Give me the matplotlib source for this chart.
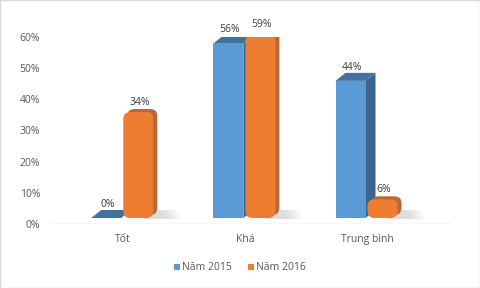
import matplotlib
matplotlib.use("Agg")
import matplotlib.pyplot as plt
from matplotlib.patches import Polygon, FancyBboxPatch, Rectangle

categories = ["Tốt", "Khá", "Trung bình"]
nam_2015 = [0.00, 0.56, 0.44]
nam_2016 = [0.34, 0.59, 0.06]
y_ticks = [0.0, 0.1, 0.2, 0.3, 0.4, 0.5, 0.6]
y_tick_labels = ["0%", "10%", "20%", "30%", "40%", "50%", "60%"]

BLUE = "#5B9BD5"
BLUE_TOP = "#41719C"
BLUE_SIDE = "#3A6590"
ORANGE = "#ED7D31"
ORANGE_BACK = "#B8683A"
TXT = "#404040"
FS = 7.5

plt.rcParams["font.family"] = ["Open Sans", "DejaVu Sans"]

W, H = 480, 288
fig = plt.figure(figsize=(W / 100, H / 100), dpi=100)
ax_l, ax_b, ax_w, ax_h = 50, 224, 403, 187
ax = fig.add_axes([ax_l / W, 1 - ax_b / H, ax_w / W, ax_h / H])
xmin, xmax = -0.6, 2.7
ymin, ymax = 0.0, 0.6
ax.set_xlim(xmin, xmax)
ax.set_ylim(ymin, ymax)

# pixel -> data helpers for the fake 3D look
xpp = (xmax - xmin) / ax_w
ypp = (ymax - ymin) / ax_h
lift = 6 * ypp          # bars sit slightly behind the floor line
dx, dy = 10 * xpp, 8 * ypp
bw = 30 * xpp
ow = 34 * xpp

for i, v in enumerate(nam_2015):
    x0 = i - bw - 2 * xpp
    y0, y1 = lift, lift + v
    side = Polygon([(x0 + bw, y0), (x0 + bw + dx, y0 + dy),
                    (x0 + bw + dx, y1 + dy), (x0 + bw, y1)],
                   closed=True, fc=BLUE_SIDE, ec="none", zorder=2)
    top = Polygon([(x0, y1), (x0 + dx, y1 + dy),
                   (x0 + bw + dx, y1 + dy), (x0 + bw, y1)],
                  closed=True, fc=BLUE_TOP, ec="none", zorder=2)
    ax.add_patch(side)
    ax.add_patch(top)
    if v > 0:
        ax.add_patch(Rectangle((x0, y0), bw, v, fc=BLUE, ec="none", zorder=2))
    ax.text(x0 + bw / 2 + 1 * xpp, y1 + dy, f"{v:.0%}",
            ha="center", va="bottom", fontsize=FS, color=TXT, clip_on=False)

r = 7 * xpp
asp = ypp / xpp
for i, v in enumerate(nam_2016):
    x0 = i
    y0, y1 = lift, lift + v
    # soft floor shadow, fading to the right
    for k in range(6):
        ax.add_patch(Polygon([(x0 + ow * 0.6, y0 - 1 * ypp),
                              (x0 + ow + (24 - 3 * k) * xpp, y0 - 1 * ypp),
                              (x0 + ow + (20 - 3 * k) * xpp, y0 + 8 * ypp),
                              (x0 + ow * 0.6, y0 + 8 * ypp)],
                             closed=True, fc="#A6A6A6", ec="none",
                             alpha=0.07, zorder=1))
    back = FancyBboxPatch((x0 + 4 * xpp, y0 + 3 * ypp), ow - 4 * xpp, v,
                          boxstyle=f"round,pad=0,rounding_size={r}",
                          mutation_aspect=asp, fc=ORANGE_BACK, ec="none", zorder=3)
    front = FancyBboxPatch((x0, y0), ow - 4 * xpp, v,
                           boxstyle=f"round,pad=0,rounding_size={r}",
                           mutation_aspect=asp, fc=ORANGE, ec="none", zorder=3)
    ax.add_patch(back)
    ax.add_patch(front)
    ax.text(x0 + ow / 2 - 1 * xpp, y1 + 4 * ypp, f"{v:.0%}",
            ha="center", va="bottom", fontsize=FS, color=TXT, clip_on=False)

ax.axhline(0, color="#D9D9D9", lw=1, zorder=0)
for s in ax.spines.values():
    s.set_visible(False)
ax.set_xticks(range(len(categories)))
ax.set_xticklabels(categories)
ax.set_yticks(y_ticks)
ax.set_yticklabels(y_tick_labels)
ax.tick_params(axis="both", length=0, labelsize=FS, labelcolor="#595959")
ax.tick_params(axis="x", pad=7)
ax.tick_params(axis="y", pad=7)

h1 = Rectangle((0, 0), 1, 1, fc=BLUE, ec="none")
h2 = Rectangle((0, 0), 1, 1, fc=ORANGE, ec="none")
fig.legend([h1, h2], ["Năm 2015", "Năm 2016"], loc="center",
           bbox_to_anchor=(0.5, 1 - 268 / H), ncol=2, frameon=False,
           fontsize=FS, handlelength=0.6, handleheight=0.6,
           handletextpad=0.2, columnspacing=1.5, labelcolor="#595959")

fig.patches.append(Rectangle((0, 0), 1, 1, transform=fig.transFigure,
                             fill=False, ec="#D9D9D9", lw=1))

fig.savefig("out.png", dpi=100)
